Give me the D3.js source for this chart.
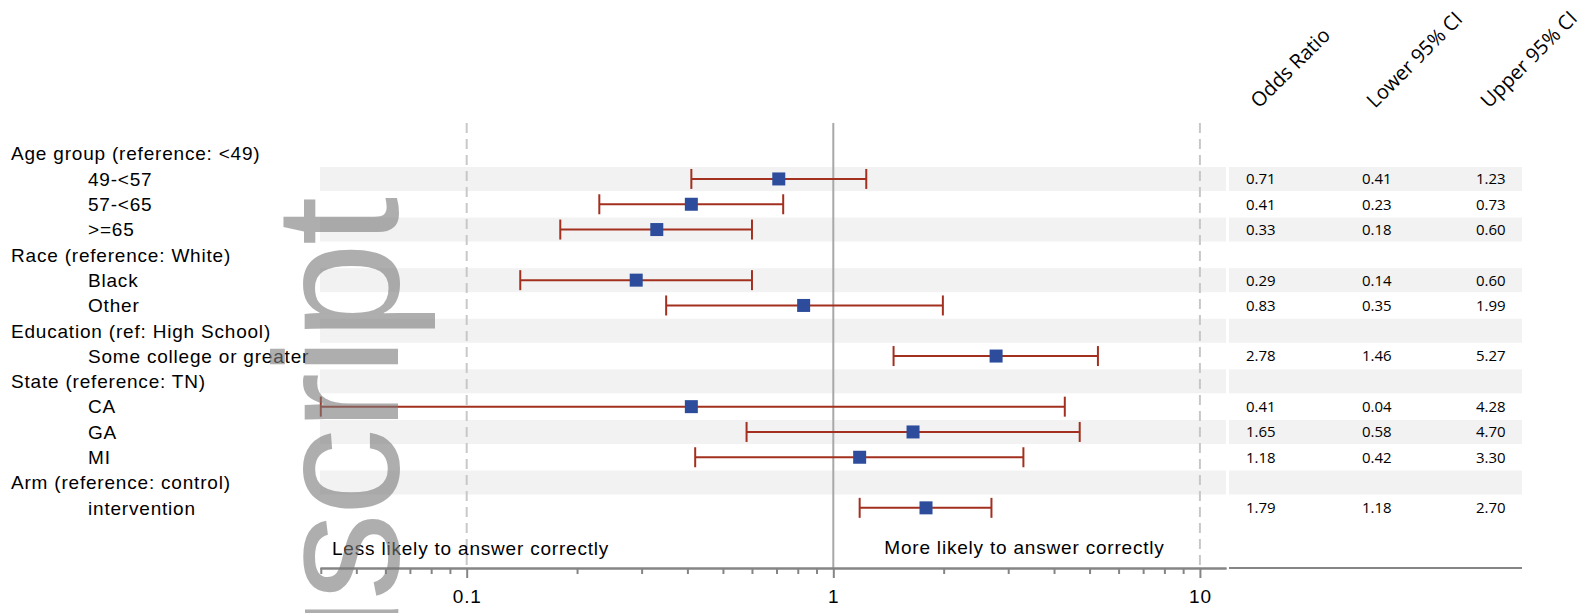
<!DOCTYPE html>
<html>
<head>
<meta charset="utf-8">
<script src="https://cdn.jsdelivr.net/npm/d3@7"></script>
<style>
  body { margin: 0; background: #ffffff; }
  .label { font-family: 'Liberation Sans', Arial, sans-serif; font-size: 19px; letter-spacing: 0.8px; fill: #000; }
  .num { font-family: 'Open Sans', sans-serif; font-size: 15px; fill: #000; }
  .head { font-family: 'Open Sans', sans-serif; font-size: 20px; fill: #000; }
</style>
</head>
<body>
<div class="chart"></div>
<script>
'use strict';

/* Data */
var rowLabels = ['Age group (reference: <49)', '49-<57', '57-<65', '>=65',
  'Race (reference: White)', 'Black', 'Other',
  'Education (ref: High School)', 'Some college or greater',
  'State (reference: TN)', 'CA', 'GA', 'MI',
  'Arm (reference: control)', 'intervention'];
var isHeader  = [1, 0, 0, 0, 1, 0, 0, 1, 0, 1, 0, 0, 0, 1, 0];
var oddsRatio = [null, 0.71, 0.41, 0.33, null, 0.29, 0.83, null, 2.78, null, 0.41, 1.65, 1.18, null, 1.79];
var lowerCI   = [null, 0.41, 0.23, 0.18, null, 0.14, 0.35, null, 1.46, null, 0.04, 0.58, 0.42, null, 1.18];
var upperCI   = [null, 1.23, 0.73, 0.60, null, 0.60, 1.99, null, 5.27, null, 4.28, 4.70, 3.30, null, 2.70];
var colHeads  = ['Odds Ratio', 'Lower 95% CI', 'Upper 95% CI'];
var majorTicks = [0.1, 1, 10];
var minorTicks = [0.04, 0.05, 0.06, 0.07, 0.08, 0.09,
  0.2, 0.3, 0.4, 0.5, 0.6, 0.7, 0.8, 0.9, 2, 3, 4, 5, 6, 7, 8, 9];
var sideNotes = ['Less likely to answer correctly', 'More likely to answer correctly'];

var width  = 1583,
    height = 613;
var rowStep = 25.3;
var axisY = 568;
var plotL = 320, plotR = 1226, tabL = 1229, tabR = 1522;
var colX = [1246, 1362, 1476];
var barColor = '#a3301f',
    dotColor = '#2d4d9c';

var rows = d3.range(rowLabels.length).map(function(i) {
  return { i: i, label: rowLabels[i], head: isHeader[i],
    or: oddsRatio[i], lo: lowerCI[i], hi: upperCI[i] };
});
var estRows = rows.filter(function(d) { return d.or !== null; });

var x = d3.scaleLog()
  .domain([0.0398, 11.78])
  .range([plotL, plotR]);
var y = d3.scaleBand()
  .domain(d3.range(rows.length))
  .range([141, 141 + rows.length * rowStep]);
var yc = function(i) { return y(i) + y.bandwidth() / 2; };

var svg = d3.select('.chart')
  .append('svg')
  .attr('width', width)
  .attr('height', height);

// Alternate shaded bands (plot and table)
var shaded = rows.filter(function(d) { return d.i % 2 === 1; });
svg.append('g').selectAll('rect.pb')
  .data(shaded).enter()
  .append('rect')
    .attr('x', plotL)
    .attr('width', plotR - plotL)
    .attr('y', function(d) { return y(d.i) + 0.65; })
    .attr('height', 24)
    .style('fill', '#f2f2f2');
svg.append('g').selectAll('rect.tb')
  .data(shaded).enter()
  .append('rect')
    .attr('x', tabL)
    .attr('width', tabR - tabL)
    .attr('y', function(d) { return y(d.i) + 0.65; })
    .attr('height', 24)
    .style('fill', '#f2f2f2');

// Reference lines
svg.append('g').selectAll('line')
  .data(majorTicks).enter()
  .append('line')
    .attr('x1', function(d) { return x(d); })
    .attr('x2', function(d) { return x(d); })
    .attr('y1', 123)
    .attr('y2', axisY)
    .style('stroke', function(d) { return d === 1 ? '#a8a8a8' : '#c8c8c8'; })
    .style('stroke-width', 2)
    .style('stroke-dasharray', function(d) { return d === 1 ? null : '10,6'; });

// Axis: minor then major ticks
var minorAxis = svg.append('g')
  .attr('transform', 'translate(0,' + axisY + ')')
  .call(d3.axisBottom(x).tickValues(minorTicks).tickSize(6).tickSizeOuter(0).tickFormat(''));
var majorAxis = svg.append('g')
  .attr('transform', 'translate(0,' + axisY + ')')
  .call(d3.axisBottom(x).tickValues(majorTicks).tickSize(10).tickSizeOuter(0).tickPadding(12)
    .tickFormat(function(d) { return d === 0.1 ? '0.1' : String(d); }));
[minorAxis, majorAxis].forEach(function(g) {
  g.selectAll('path, line').style('stroke', '#858585').style('stroke-width', 2);
});
majorAxis.selectAll('text')
  .attr('class', 'label')
  .style('font-size', '19px')
  .style('font-family', null);

svg.append('line')
  .attr('x1', tabL).attr('x2', tabR)
  .attr('y1', axisY).attr('y2', axisY)
  .style('stroke', '#858585')
  .style('stroke-width', 2);

// Direction notes
svg.append('text').attr('class', 'label')
  .attr('x', plotL + 12).attr('y', 555)
  .text(sideNotes[0]);
svg.append('text').attr('class', 'label')
  .attr('x', x(1) + 51).attr('y', 554)
  .text(sideNotes[1]);

// Error bars
var bars = svg.append('g').selectAll('g')
  .data(estRows).enter()
  .append('g')
    .style('stroke', barColor)
    .style('stroke-width', 2);
bars.append('line')
  .attr('x1', function(d) { return x(d.lo); })
  .attr('x2', function(d) { return x(d.hi); })
  .attr('y1', function(d) { return yc(d.i); })
  .attr('y2', function(d) { return yc(d.i); });
bars.append('line')
  .attr('x1', function(d) { return x(d.lo); })
  .attr('x2', function(d) { return x(d.lo); })
  .attr('y1', function(d) { return yc(d.i) - 10; })
  .attr('y2', function(d) { return yc(d.i) + 10; });
bars.append('line')
  .attr('x1', function(d) { return x(d.hi); })
  .attr('x2', function(d) { return x(d.hi); })
  .attr('y1', function(d) { return yc(d.i) - 10; })
  .attr('y2', function(d) { return yc(d.i) + 10; });

// Odds ratio markers
svg.append('g').selectAll('rect')
  .data(estRows).enter()
  .append('rect')
    .attr('x', function(d) { return x(d.or) - 6.5; })
    .attr('y', function(d) { return yc(d.i) - 6.5; })
    .attr('width', 13)
    .attr('height', 13)
    .style('fill', dotColor);

// Row labels
svg.append('g').selectAll('text')
  .data(rows).enter()
  .append('text')
    .attr('class', 'label')
    .attr('x', function(d) { return d.head ? 11 : 88; })
    .attr('y', function(d) { return yc(d.i); })
    .attr('dy', '0.36em')
    .text(function(d) { return d.label; });

// Table columns
var fmt = d3.format('.2f');
var keys = ['or', 'lo', 'hi'];
keys.forEach(function(k, c) {
  svg.append('g').selectAll('text')
    .data(estRows).enter()
    .append('text')
      .attr('class', 'num')
      .attr('x', colX[c])
      .attr('y', function(d) { return yc(d.i); })
      .attr('dy', '0.36em')
      .text(function(d) { return fmt(d[k]); });
});
svg.append('g').selectAll('text')
  .data(colHeads).enter()
  .append('text')
    .attr('class', 'head')
    .attr('transform', function(d, i) {
      return 'translate(' + (colX[i] + 13) + ',109) rotate(-45)';
    })
    .text(function(d) { return d; });

// Watermark
svg.append('text')
  .attr('transform', 'translate(398,200) rotate(-90)')
  .attr('text-anchor', 'end')
  .style('font-family', "'Liberation Sans', Arial, sans-serif")
  .style('font-size', '176px')
  .style('letter-spacing', '-3.3px')
  .style('fill', '#7a7a7a')
  .style('opacity', 0.6)
  .text('Author Manuscript');
</script>
</body>
</html>
